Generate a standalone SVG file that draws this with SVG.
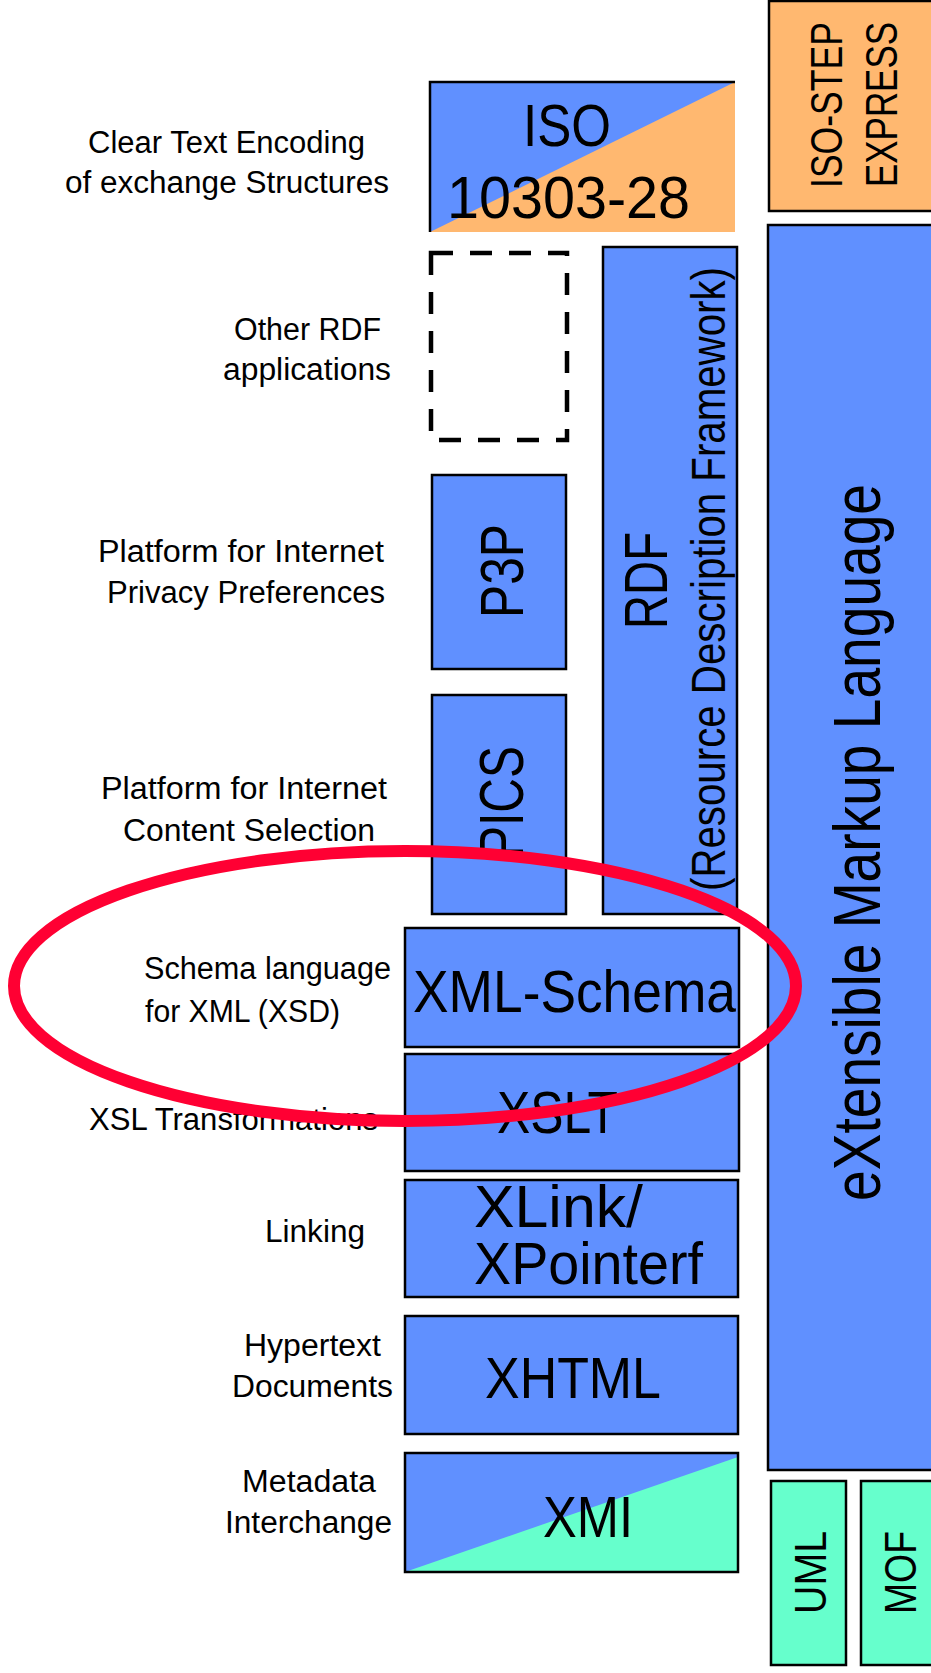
<svg xmlns="http://www.w3.org/2000/svg" width="931" height="1673" viewBox="0 0 931 1673">
<style>
.bx{fill:#6090FF;stroke:#000;stroke-width:2.5}
.or{fill:#FFB870;stroke:#000;stroke-width:2.5}
.mt{fill:#66FFCC;stroke:#000;stroke-width:2.5}
.lb{font-family:"Liberation Sans",Arial,sans-serif;font-size:31px;fill:#000}
.bt{font-family:"Liberation Sans",Arial,sans-serif;font-size:59px;fill:#000}
</style>
<rect width="931" height="1673" fill="#fff"/>
<g id="labels">
<text class="lb" x="88" y="153" textLength="277" lengthAdjust="spacingAndGlyphs">Clear Text Encoding</text>
<text class="lb" x="65" y="193" textLength="324" lengthAdjust="spacingAndGlyphs">of exchange Structures</text>
<text class="lb" x="234" y="340" textLength="147" lengthAdjust="spacingAndGlyphs">Other RDF</text>
<text class="lb" x="223" y="380" textLength="168" lengthAdjust="spacingAndGlyphs">applications</text>
<text class="lb" x="98" y="562" textLength="286" lengthAdjust="spacingAndGlyphs">Platform for Internet</text>
<text class="lb" x="107" y="603" textLength="278" lengthAdjust="spacingAndGlyphs">Privacy Preferences</text>
<text class="lb" x="101" y="799" textLength="286" lengthAdjust="spacingAndGlyphs">Platform for Internet</text>
<text class="lb" x="123" y="841" textLength="252" lengthAdjust="spacingAndGlyphs">Content Selection</text>
<text class="lb" x="144" y="979" textLength="247" lengthAdjust="spacingAndGlyphs">Schema language</text>
<text class="lb" x="145" y="1022" textLength="195" lengthAdjust="spacingAndGlyphs">for XML (XSD)</text>
<text class="lb" x="89" y="1130" textLength="289" lengthAdjust="spacingAndGlyphs">XSL Transformations</text>
<text class="lb" x="265" y="1242" textLength="100" lengthAdjust="spacingAndGlyphs">Linking</text>
<text class="lb" x="244" y="1356" textLength="137" lengthAdjust="spacingAndGlyphs">Hypertext</text>
<text class="lb" x="232" y="1397" textLength="161" lengthAdjust="spacingAndGlyphs">Documents</text>
<text class="lb" x="242" y="1492" textLength="134" lengthAdjust="spacingAndGlyphs">Metadata</text>
<text class="lb" x="225" y="1533" textLength="167" lengthAdjust="spacingAndGlyphs">Interchange</text>
</g>
<g id="iso10303">
<polygon points="430,82 735,82 735,232 430,232" fill="#FFB870"/>
<polygon points="430,82 735,82 430,232" fill="#6090FF"/>
<path d="M430,232 V82 H735" fill="none" stroke="#000" stroke-width="2.5"/>
<text class="bt" x="523" y="146" textLength="88" lengthAdjust="spacingAndGlyphs">ISO</text>
<text class="bt" x="447" y="218" textLength="243" lengthAdjust="spacingAndGlyphs">10303-28</text>
</g>
<g id="isostep">
<rect class="or" x="769" y="1" width="172" height="210"/>
<text class="bt" style="font-size:44px" transform="translate(842,188) rotate(-90)" textLength="166" lengthAdjust="spacingAndGlyphs">ISO-STEP</text>
<text class="bt" style="font-size:44px" transform="translate(897,187) rotate(-90)" textLength="165" lengthAdjust="spacingAndGlyphs">EXPRESS</text>
</g>
<g id="xml">
<rect class="bx" x="768" y="225" width="172" height="1245"/>
<text class="bt" style="font-size:66px" transform="translate(880,1201) rotate(-90)" textLength="717" lengthAdjust="spacingAndGlyphs">eXtensible Markup Language</text>
</g>
<g id="otherrdf">
<rect x="431" y="253" width="136" height="187" fill="none" stroke="#000" stroke-width="4.5" stroke-dasharray="22 17"/>
</g>
<g id="p3p">
<rect class="bx" x="432" y="475" width="134" height="194"/>
<text class="bt" style="font-size:62px" transform="translate(523,618) rotate(-90)" textLength="94" lengthAdjust="spacingAndGlyphs">P3P</text>
</g>
<g id="rdf">
<rect class="bx" x="603" y="247" width="134" height="667"/>
<text class="bt" style="font-size:61px" transform="translate(667,629) rotate(-90)" textLength="97" lengthAdjust="spacingAndGlyphs">RDF</text>
<text class="bt" style="font-size:48px" transform="translate(725,891) rotate(-90)" textLength="624" lengthAdjust="spacingAndGlyphs">(Resource Description Framework)</text>
</g>
<g id="pics">
<rect class="bx" x="432" y="695" width="134" height="219"/>
<text class="bt" style="font-size:63px" transform="translate(523,858) rotate(-90)" textLength="112" lengthAdjust="spacingAndGlyphs">PICS</text>
</g>
<g id="xmlschema">
<rect class="bx" x="405" y="928" width="334" height="119"/>
<text class="bt" x="413" y="1012" textLength="323" lengthAdjust="spacingAndGlyphs">XML-Schema</text>
</g>
<g id="xslt">
<rect class="bx" x="405" y="1054" width="334" height="117"/>
<text class="bt" x="497" y="1133" textLength="121" lengthAdjust="spacingAndGlyphs">XSLT</text>
</g>
<g id="xlink">
<rect class="bx" x="405" y="1180" width="333" height="117"/>
<text class="bt" x="474" y="1227" textLength="169" lengthAdjust="spacingAndGlyphs">XLink/</text>
<text class="bt" x="474" y="1284" textLength="229" lengthAdjust="spacingAndGlyphs">XPointerf</text>
</g>
<g id="xhtml">
<rect class="bx" x="405" y="1316" width="333" height="118"/>
<text class="bt" style="font-size:57px" x="485" y="1398" textLength="176" lengthAdjust="spacingAndGlyphs">XHTML</text>
</g>
<g id="xmi">
<polygon points="405,1453 738,1453 738,1572 405,1572" fill="#66FFCC"/>
<polygon points="405,1453 738,1453 738,1457 405,1572" fill="#6090FF"/>
<rect x="405" y="1453" width="333" height="119" fill="none" stroke="#000" stroke-width="2.5"/>
<text class="bt" style="font-size:58px" x="543" y="1537" textLength="90" lengthAdjust="spacingAndGlyphs">XMI</text>
</g>
<g id="uml">
<rect class="mt" x="771" y="1481" width="75" height="184"/>
<text class="bt" style="font-size:45px" transform="translate(826,1614) rotate(-90)" textLength="83" lengthAdjust="spacingAndGlyphs">UML</text>
</g>
<g id="mof">
<rect class="mt" x="861" y="1481" width="80" height="184"/>
<text class="bt" style="font-size:45px" transform="translate(916,1614) rotate(-90)" textLength="83" lengthAdjust="spacingAndGlyphs">MOF</text>
</g>
<g id="connectors"></g>
<g id="highlight">
<ellipse cx="405" cy="986" rx="391" ry="135" fill="none" stroke="#FF0033" stroke-width="12"/>
</g>
</svg>
